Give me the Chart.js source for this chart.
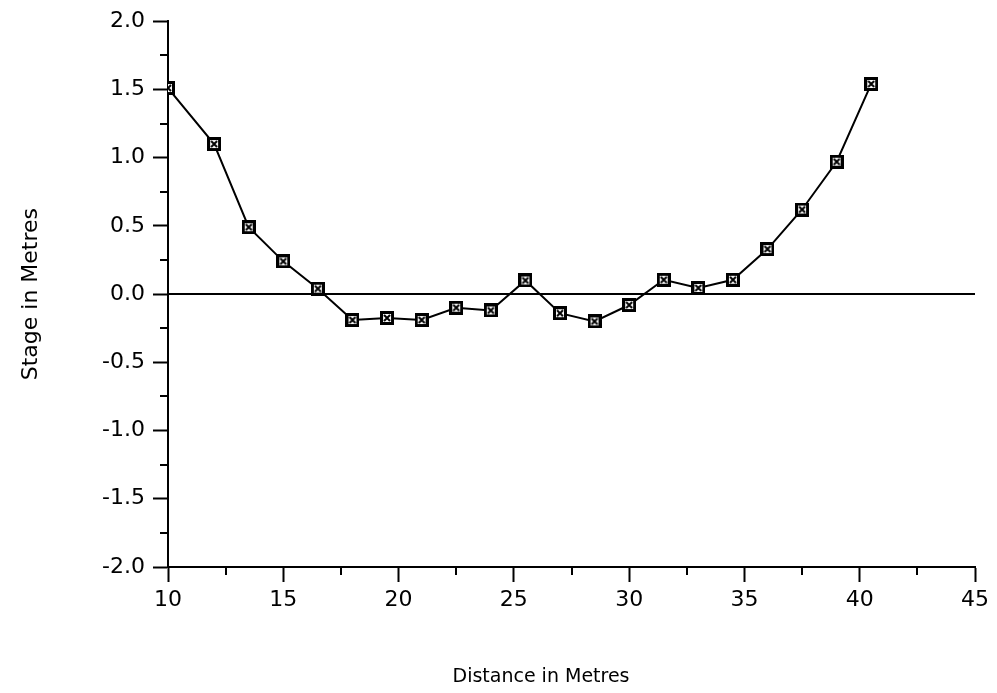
<!DOCTYPE html>
<html>
<head>
<meta charset="utf-8">
<title>Stage in Metres</title>
<script src="https://cdn.jsdelivr.net/npm/chart.js@4.4.1/dist/chart.umd.min.js"></script>
<style>
  html, body { margin: 0; padding: 0; background: #fff; }
  #wrap { width: 997px; height: 693px; }
</style>
</head>
<body>
<div id="wrap"><canvas id="chart" width="997" height="693"></canvas></div>
<script>
// ── Data ─────────────────────────────────────────────────────
const distance = [10, 12, 13.5, 15, 16.5, 18, 19.5, 21, 22.5, 24, 25.5,
                  27, 28.5, 30, 31.5, 33, 34.5, 36, 37.5, 39, 40.5];
const stage    = [1.51, 1.10, 0.49, 0.24, 0.04, -0.19, -0.175, -0.19, -0.10, -0.12, 0.10,
                  -0.14, -0.20, -0.08, 0.105, 0.045, 0.105, 0.33, 0.62, 0.97, 1.54];
const refLineX = [10, 45];
const refLineY = [0, 0];

const X_RANGE  = [10, 45];
const Y_RANGE  = [-2, 2];
const X_TITLE  = 'Distance in Metres';
const Y_TITLE  = 'Stage in Metres';

const FONT = "'DejaVu Sans', sans-serif";

// ── Marker: dark square with a cross inside ──────────────────
function makeMarker() {
  const c = document.createElement('canvas');
  c.width = 14; c.height = 14;
  const g = c.getContext('2d');
  g.fillStyle = '#000';
  g.fillRect(0, 0, 14, 14);
  g.fillStyle = '#fff';
  g.fillRect(3, 3, 8, 8);
  g.strokeStyle = '#000';
  g.lineWidth = 2;
  g.beginPath();
  g.moveTo(4, 4); g.lineTo(10, 10);
  g.moveTo(10, 4); g.lineTo(4, 10);
  g.stroke();
  return c;
}

const isMajorY = (v) => Math.abs(v * 2 - Math.round(v * 2)) < 1e-6;
const isMajorX = (v) => Math.abs(v / 5 - Math.round(v / 5)) < 1e-6;

// ── Short minor ticks + x title (sits left of the plot centre) ──
const axisExtras = {
  id: 'axisExtras',
  afterDraw(chart) {
    const { ctx, scales: { x, y } } = chart;
    ctx.save();
    ctx.strokeStyle = '#000';
    ctx.lineWidth = 2;
    ctx.beginPath();
    y.ticks.forEach((t) => {
      if (isMajorY(t.value)) return;
      const py = Math.round(y.getPixelForValue(t.value));
      ctx.moveTo(x.left - 8, py);
      ctx.lineTo(x.left, py);
    });
    x.ticks.forEach((t) => {
      if (isMajorX(t.value)) return;
      const px = Math.round(x.getPixelForValue(t.value));
      ctx.moveTo(px, y.bottom);
      ctx.lineTo(px, y.bottom + 8);
    });
    ctx.stroke();

    ctx.fillStyle = '#000';
    ctx.font = `19px ${FONT}`;
    ctx.textAlign = 'center';
    ctx.textBaseline = 'middle';
    ctx.fillText(X_TITLE, 541, 677);
    ctx.restore();
  },
};

new Chart(document.getElementById('chart'), {
  type: 'line',
  data: {
    datasets: [
      {
        data: distance.map((d, i) => ({ x: d, y: stage[i] })),
        borderColor: '#000',
        borderWidth: 2,
        pointStyle: makeMarker(),
        pointRadius: 7,
        tension: 0,
      },
      {
        data: refLineX.map((d, i) => ({ x: d, y: refLineY[i] })),
        borderColor: '#000',
        borderWidth: 2,
        pointRadius: 0,
      },
    ],
  },
  options: {
    responsive: false,
    animation: false,
    layout: { padding: { top: 20, right: 22, left: 0, bottom: 0 } },
    plugins: { legend: { display: false }, tooltip: { enabled: false } },
    scales: {
      x: {
        type: 'linear',
        min: X_RANGE[0],
        max: X_RANGE[1],
        afterFit: (s) => { s.height = 126; },
        border: { display: true, color: '#000', width: 2 },
        grid: {
          drawOnChartArea: false,
          tickLength: 15,
          tickWidth: 2,
          tickColor: (c) => (c.tick && isMajorX(c.tick.value) ? '#000' : 'rgba(0,0,0,0)'),
        },
        ticks: {
          stepSize: 2.5,
          autoSkip: false,
          maxRotation: 0,
          padding: 5,
          color: '#000',
          font: { family: FONT, size: 22 },
          callback: (v) => (isMajorX(v) ? String(v) : ''),
        },
        title: { display: false },
      },
      y: {
        type: 'linear',
        min: Y_RANGE[0],
        max: Y_RANGE[1],
        afterFit: (s) => { s.width = 168; },
        border: { display: true, color: '#000', width: 2 },
        grid: {
          drawOnChartArea: false,
          tickLength: 15,
          tickWidth: 2,
          tickColor: (c) => (c.tick && isMajorY(c.tick.value) ? '#000' : 'rgba(0,0,0,0)'),
        },
        ticks: {
          stepSize: 0.25,
          autoSkip: false,
          padding: 8,
          color: '#000',
          font: { family: FONT, size: 22 },
          callback: (v) => (isMajorY(v) ? v.toFixed(1) : ''),
        },
        title: {
          display: true,
          text: Y_TITLE,
          color: '#000',
          font: { family: FONT, size: 22 },
          padding: { top: 18, bottom: 0 },
        },
      },
    },
  },
  plugins: [axisExtras],
});
</script>
</body>
</html>
